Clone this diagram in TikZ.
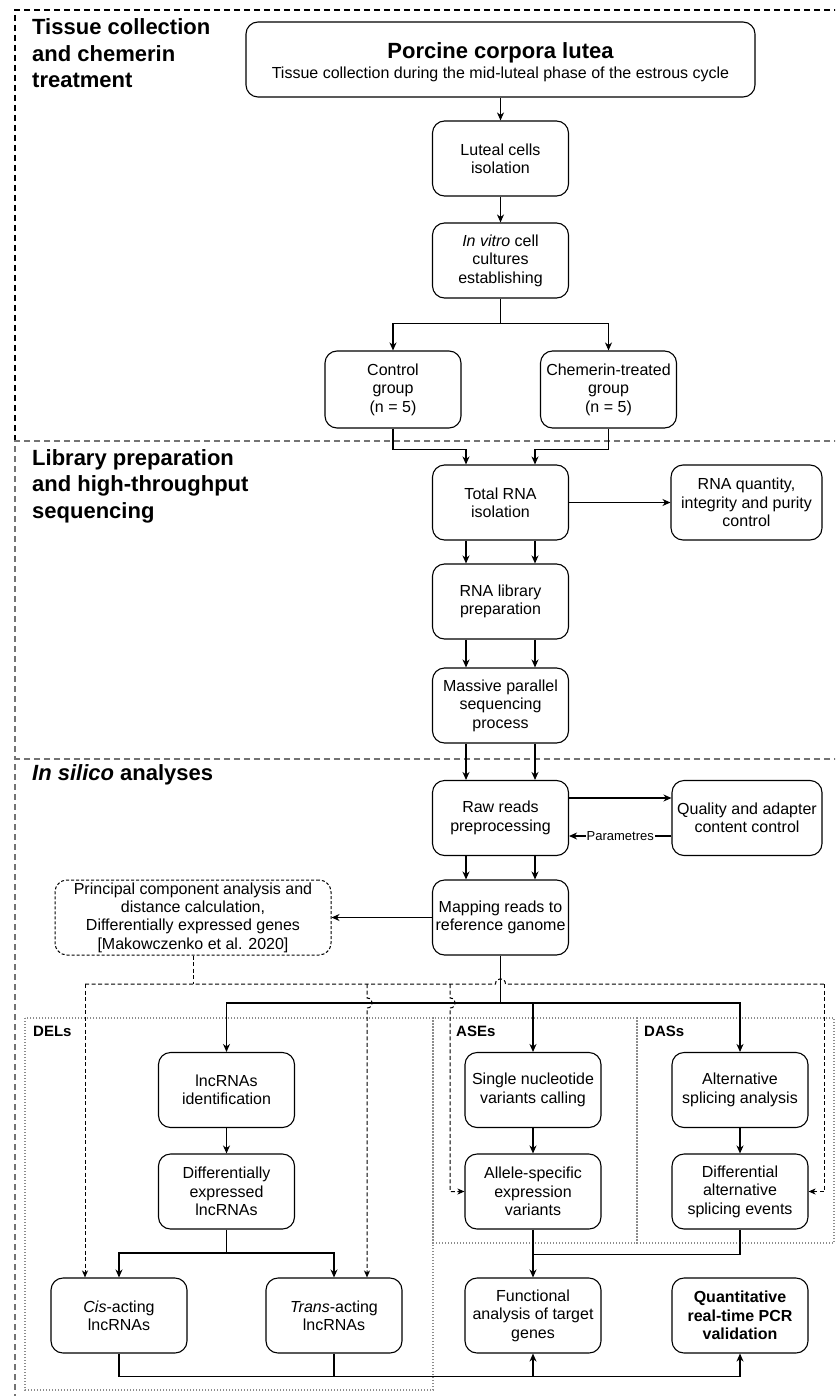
\documentclass[tikz,border=0pt]{standalone}
\usepackage{fontspec}
\setmainfont{Liberation Sans}
\usetikzlibrary{arrows.meta,calc}
\begin{document}
\begin{tikzpicture}[x=1pt,y=-1pt,
  box/.style={draw,fill=white,rounded corners=12pt,line width=1.1pt,minimum width=136pt,minimum height=75pt,align=center,inner sep=0pt,font=\fontsize{16}{18.4}\selectfont},
  ln/.style={line width=1.1pt},
  arr/.style={line width=1.1pt,-{Stealth[length=8pt,width=7pt,inset=2.5pt]}},
  dln/.style={line width=1pt,dash pattern=on 4pt off 2.5pt},
  darr/.style={dln,-{Stealth[length=7pt,width=6pt,inset=2pt]}},
  frameK/.style={line width=1.8pt,dash pattern=on 6pt off 4pt},
  frameG/.style={frameK,draw=black!55},
  region/.style={line width=1.5pt,draw=black!45,dash pattern=on 1.4pt off 1.6pt},
  ttl/.style={anchor=base west,font=\fontsize{22}{26}\selectfont\bfseries,inner sep=0pt},
  lbl/.style={anchor=base west,font=\fontsize{15}{18}\selectfont\bfseries,inner sep=0pt}]
\useasboundingbox (0,0) rectangle (835,1396);
\clip (0,0) rectangle (835,1396);

% section frames
\draw[frameK] (850,10) -- (15,10) -- (15,441);
\draw[frameG] (850,441) -- (15,441) -- (15,759);
\draw[frameG] (850,759) -- (15,759) -- (15,1410);

% regions
\draw[region] (25,1018) rectangle (433,1390);
\draw[region] (433,1018) rectangle (637,1243);
\draw[region] (637,1018) rectangle (834,1243);
\node[lbl] (delsL) at (33,1036) {DELs};
\node[lbl] (asesL) at (456,1036) {ASEs};
\node[lbl] (dassL) at (644,1036) {DASs};

% titles
\node[ttl] (t1a) at (32,35) {Tissue collection};
\node[ttl] (t1b) at (32,61.5) {and chemerin};
\node[ttl] (t1c) at (32,88) {treatment};
\node[ttl] (t2a) at (32,465) {Library preparation};
\node[ttl] (t2b) at (32,491.5) {and high-throughput};
\node[ttl] (t2c) at (32,518) {sequencing};
\node[ttl] (t3) at (32,780) {\textit{In silico} analyses};

% boxes
\node[box,minimum width=509pt] (top) at (500.5,59.5) {};
\node[inner sep=0pt,anchor=base,font=\fontsize{22}{26}\selectfont\bfseries] (topT) at (500.5,59) {Porcine corpora lutea};
\node[inner sep=0pt,anchor=base,font=\fontsize{16}{18}\selectfont] (topS) at (500.5,79) {Tissue collection during the mid-luteal phase of the estrous cycle};
\node[box] (luteal) at (500.5,158.5) {Luteal cells\\isolation};
\node[box] (invitro) at (500.5,260.5) {\textit{In vitro} cell\\cultures\\establishing};
\node[box,minimum height=77pt] (ctrl) at (393,389.5) {Control\\group\\(n = 5)};
\node[box,minimum height=77pt] (chem) at (608.5,389.5) {Chemerin-treated\\group\\(n = 5)};
\node[box] (total) at (500.5,502.5) {Total RNA\\isolation};
\node[box,minimum width=151pt] (rnaq) at (746.5,502.5) {RNA quantity,\\integrity and purity\\control};
\node[box] (lib) at (500.5,601.5) {RNA library\\preparation};
\node[box] (mass) at (500.5,705.5) {Massive parallel\\sequencing\\process};
\node[box] (raw) at (500.5,818) {Raw reads\\preprocessing};
\node[box,minimum width=150pt] (qc) at (747,818) {Quality and adapter\\content control};
\node[box] (map) at (500.5,917.5) {Mapping reads to\\reference ganome};
\node[box,minimum width=276pt,line width=1pt,dash pattern=on 3pt off 2pt] (pca) at (193,917.5) {Principal component analysis and\\distance calculation,\\Differentially expressed genes\\{[}Makowczenko et al. 2020{]}};
\node[box] (lnc) at (226.5,1090) {lncRNAs\\identification};
\node[box] (dlnc) at (226.5,1191.5) {Differentially\\expressed\\lncRNAs};
\node[box] (snv) at (533,1090) {Single nucleotide\\variants calling};
\node[box] (ase) at (533,1191.5) {Allele-specific\\expression\\variants};
\node[box] (alt) at (740,1090) {Alternative\\splicing analysis};
\node[box] (das) at (740,1191.5) {Differential\\alternative\\splicing events};
\node[box] (cis) at (119,1315.5) {\textit{Cis}-acting\\lncRNAs};
\node[box] (trans) at (334,1315.5) {\textit{Trans}-acting\\lncRNAs};
\node[box] (func) at (533,1315.5) {Functional\\analysis of target\\genes};
\node[box,font=\fontsize{16}{18.4}\selectfont\bfseries] (qpcr) at (740,1315.5) {Quantitative\\real-time PCR\\validation};

% section 1 connectors
\draw[arr] (top.south) -- (luteal.north);
\draw[arr] (luteal.south) -- (invitro.north);
\coordinate (s1) at ($(invitro.south)+(0,25)$);
\draw[ln] (invitro.south) -- (s1);
\draw[arr] (s1) -| (ctrl.north);
\draw[arr] (s1) -| (chem.north);
\draw[arr] (ctrl.south) |- ($(total.north)+(-34.5,-15)$) -- ($(total.north)+(-34.5,0)$);
\draw[arr] (chem.south) |- ($(total.north)+(34.5,-15)$) -- ($(total.north)+(34.5,0)$);

% section 2 connectors
\draw[arr] (total.east) -- (rnaq.west);
\draw[arr] ([xshift=-34.5pt]total.south) -- ([xshift=-34.5pt]lib.north);
\draw[arr] ([xshift=34.5pt]total.south) -- ([xshift=34.5pt]lib.north);
\draw[arr] ([xshift=-34.5pt]lib.south) -- ([xshift=-34.5pt]mass.north);
\draw[arr] ([xshift=34.5pt]lib.south) -- ([xshift=34.5pt]mass.north);
\draw[arr] ([xshift=-34.5pt]mass.south) -- ([xshift=-34.5pt]raw.north);
\draw[arr] ([xshift=34.5pt]mass.south) -- ([xshift=34.5pt]raw.north);

% section 3 connectors
\draw[arr] ([yshift=20pt]raw.east) -- ([yshift=20pt]qc.west);
\draw[arr] ([yshift=-18pt]qc.west) -- node[fill=white,inner sep=1pt,font=\fontsize{13}{15}\selectfont] (par) {Parametres} ([yshift=-18pt]raw.east);
\draw[arr] ([xshift=-34.5pt]raw.south) -- ([xshift=-34.5pt]map.north);
\draw[arr] ([xshift=34.5pt]raw.south) -- ([xshift=34.5pt]map.north);
\draw[arr] (map.west) -- (pca.east);

\coordinate (jn) at (500.5,1003);
\draw[ln] (map.south) -- (jn);
\draw[arr] (jn) -| (lnc.north);
\draw[arr] (jn) -| (snv.north);
\draw[arr] (jn) -| (alt.north);
\draw[arr] (lnc.south) -- (dlnc.north);
\draw[arr] (snv.south) -- (ase.north);
\draw[arr] (alt.south) -- (das.north);

\coordinate (j3) at (226.5,1253);
\draw[ln] (dlnc.south) -- (j3);
\draw[arr] (j3) -| (cis.north);
\draw[arr] (j3) -| (trans.north);
\draw[arr] (ase.south) -- (func.north);
\draw[ln] (das.south) |- ($(ase.south)+(0,25)$);

\coordinate (bl) at (119,1376);
\draw[arr] (cis.south) |- ($(qpcr.south)+(0,23)$) -- (qpcr.south);
\draw[ln] (trans.south) -- (trans.south |- bl);
\draw[arr] (func.south |- bl) -- (func.south);

% dashed connectors
\coordinate (dL) at (85,984);
\coordinate (dR) at (824,984);
\coordinate (dT) at (367,984);
\coordinate (dA) at (450,984);
\draw[dln] (pca.south) -- (pca.south |- dL);
\draw[dln] (dL) -- ($(map.south |- dL)+(-5,0)$) .. controls ($(map.south |- dL)+(-5,-7)$) and ($(map.south |- dL)+(5,-7)$) .. ($(map.south |- dL)+(5,0)$) -- (dR);
\draw[darr] (dL) -- (dL |- cis.north);
\draw[darr] (dT) -- ($(dT |- jn)+(0,-5)$) .. controls ($(dT |- jn)+(7,-5)$) and ($(dT |- jn)+(7,5)$) .. ($(dT |- jn)+(0,5)$) -- (dT |- trans.north);
\draw[darr] (dA) -- ($(dA |- jn)+(0,-5)$) .. controls ($(dA |- jn)+(7,-5)$) and ($(dA |- jn)+(7,5)$) .. ($(dA |- jn)+(0,5)$) -- (dA |- ase.west) -- (ase.west);
\draw[darr] (dR) |- (das.east);
\end{tikzpicture}
\end{document}
